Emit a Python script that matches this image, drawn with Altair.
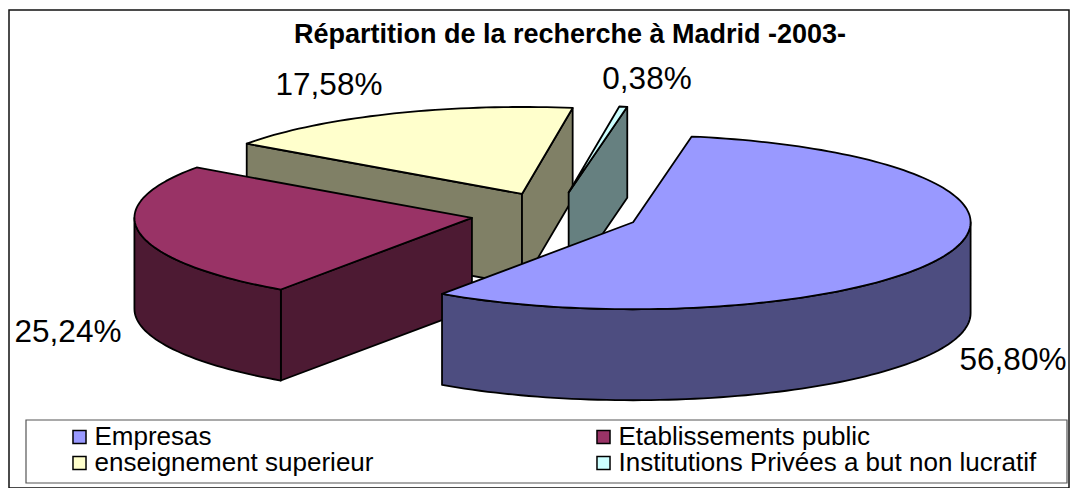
import math
import altair as alt
import pandas as pd

# ---- data
categories = ["Empresas", "Etablissements public", "enseignement superieur", "Institutions Privées a but non lucratif"]
shares = [56.80, 25.24, 17.58, 0.38]
top_colors = ["#9999FF", "#993366", "#FFFFCC", "#CCFFFF"]
side_colors = ["#4D4D80", "#4D1A33", "#808066", "#668080"]
title_text = "Répartition de la recherche à Madrid -2003-"

# ---- pie projection (layout, in px of the plot area)
CX, CY = 546.0, 204.0      # pie centre
A, B = 337.5, 87.0         # ellipse radii
DEPTH = 91.0               # thickness
EXPLODE = 0.25             # explosion, as a share of the radius
START = 10.0               # first slice angle, clockwise from the top
DRAW_ORDER = [2, 3, 1, 0]  # back to front
LABEL_POS = [(1004, 351), (59, 323), (320, 76), (638, 70)]


def pt(cx, cy, t, dy=0.0):
    r = math.radians(t)
    return [cx + A * math.sin(r), cy - B * math.cos(r) + dy]


def arc(cx, cy, t0, t1, dy=0.0):
    n = max(2, int(abs(t1 - t0) / 1.5) + 2)
    return [pt(cx, cy, t0 + (t1 - t0) * i / (n - 1), dy) for i in range(n)]


def feature(part, ring):
    return {"type": "Feature",
            "properties": {"part": part},
            "geometry": {"type": "Polygon", "coordinates": [ring + [ring[0]]]}}


bounds = []
a = START
for s in shares:
    bounds.append((a, a + s * 3.6))
    a += s * 3.6

features = []
for i in DRAW_ORDER:
    t0, t1 = bounds[i]
    mid = math.radians((t0 + t1) / 2)
    ax = CX + EXPLODE * A * math.sin(mid)
    ay = CY - EXPLODE * B * math.cos(mid)
    side = categories[i] + " (côté)"
    # radial faces turned towards the viewer
    if math.sin(math.radians(t0)) < 0:
        p = pt(ax, ay, t0)
        features.append(feature(side, [[ax, ay], p, [p[0], p[1] + DEPTH], [ax, ay + DEPTH]]))
    if math.sin(math.radians(t1)) > 0:
        p = pt(ax, ay, t1)
        features.append(feature(side, [[ax, ay], p, [p[0], p[1] + DEPTH], [ax, ay + DEPTH]]))
    # outer wall: only the front half of the rim shows
    w0, w1 = max(t0, 90), min(t1, 270)
    if w1 > w0:
        features.append(feature(side, arc(ax, ay, w0, w1) + arc(ax, ay, w1, w0, DEPTH)))
    features.append(feature(categories[i], [[ax, ay]] + arc(ax, ay, t0, t1)))

domain = categories + [c + " (côté)" for c in categories]
colors = top_colors + side_colors

pie = alt.Chart(alt.Data(values=features)).mark_geoshape(stroke="black", strokeWidth=1.8, strokeJoin="round").encode(
    color=alt.Color(
        "properties.part:N",
        scale=alt.Scale(domain=domain, range=colors),
        legend=alt.Legend(
            title=None, values=categories, orient="none", legendX=57.5, legendY=415,
            direction="horizontal", columns=2, columnPadding=217, rowPadding=0, padding=0,
            symbolType="square", symbolSize=170, symbolStrokeColor="black", symbolStrokeWidth=1.5,
            labelFont="Liberation Sans", labelFontSize=26, labelColor="black", labelOffset=2,
            labelLimit=600, clipHeight=24, symbolOpacity=1,
        ),
    )
).project(type="identity", scale=1, translate=[0, 0])

labels = pd.DataFrame({
    "x": [p[0] for p in LABEL_POS],
    "y": [p[1] for p in LABEL_POS],
    "label": [f"{s:.2f}%".replace(".", ",") for s in shares],
})
text = alt.Chart(labels).mark_text(font="Liberation Sans", fontSize=31.5, color="black", baseline="middle").encode(
    x=alt.X("x:Q", scale=None, axis=None),
    y=alt.Y("y:Q", scale=None, axis=None),
    text="label:N",
)

legend_box = alt.Chart(pd.DataFrame({"a": [0]})).mark_rect(fill="white", stroke="#555555", strokeWidth=1.2).encode(
    x=alt.value(17), x2=alt.value(1058), y=alt.value(410), y2=alt.value(473)
)

chart = alt.layer(legend_box, pie, text).properties(
    width=1060, height=478,
    padding={"left": 1, "top": 2, "right": 1, "bottom": 0},
    autosize=alt.AutoSizeParams(type="none"),
    background="white",
    title=alt.TitleParams(
        title_text, font="Liberation Sans", fontSize=27, fontWeight="bold", color="black",
        anchor="middle", offset=-39, dx=31,
    ),
).configure_view(stroke="#111111", strokeWidth=1.5, fill="white")

chart.save("out.html", embed_options={"renderer": "svg", "actions": False})
